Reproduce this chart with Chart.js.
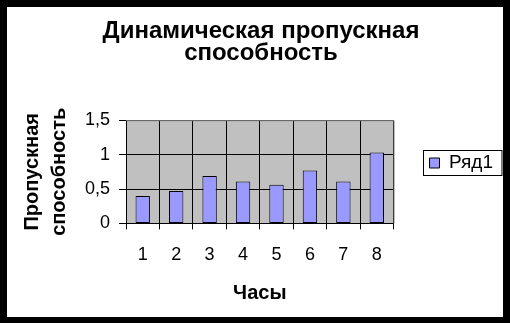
<!DOCTYPE html>
<html>
<head>
<meta charset="utf-8">
<script src="https://cdn.jsdelivr.net/npm/chart.js@4.4.1/dist/chart.umd.min.js"></script>
<style>
  html, body { margin: 0; padding: 0; background: #000; }
  #wrap { position: absolute; left: 7px; top: 7px; width: 496px; height: 310px; background: #fff; }
</style>
</head>
<body>
<div id="wrap"><canvas id="myChart" width="496" height="310"></canvas></div>
<script>
// данные с картинки
var chasy = ["1", "2", "3", "4", "5", "6", "7", "8"];
var ryad1 = [0.40, 0.47, 0.69, 0.61, 0.56, 0.77, 0.61, 1.03];
var yTicks = [0, 0.5, 1, 1.5];

var ctx = document.getElementById('myChart').getContext('2d');

// серый фон области построения + рамка
var fonPlagin = {
    id: 'fon',
    beforeDraw: function (chart) {
        var a = chart.chartArea;
        var c = chart.ctx;
        c.save();
        c.fillStyle = '#C0C0C0';
        c.fillRect(a.left, a.top, a.right - a.left, a.bottom - a.top);
        c.restore();
    },
    afterDraw: function (chart) {
        var a = chart.chartArea;
        var c = chart.ctx;
        c.save();
        c.strokeStyle = '#808080';
        c.lineWidth = 1;
        c.beginPath();
        c.moveTo(a.left, a.top + 0.5);
        c.lineTo(a.right + 0.5, a.top + 0.5);
        c.lineTo(a.right + 0.5, a.bottom);
        c.stroke();
        // рамка легенды
        var kutu = chart.legend.legendHitBoxes[0];
        if (kutu) {
            c.strokeStyle = '#000';
            c.strokeRect(Math.round(kutu.left) - 6.5, Math.round(kutu.top) - 3.5, kutu.width + 15, kutu.height + 6);
        }
        c.restore();
    }
};

var myChart = new Chart(ctx, {
    type: 'bar',
    data: {
        labels: chasy,
        datasets: [{
            label: 'Ряд1',
            data: ryad1,
            backgroundColor: '#9999FF',
            borderColor: '#000000',
            borderWidth: 1,
            borderSkipped: false,
            barPercentage: 0.43,
            categoryPercentage: 1
        }]
    },
    options: {
        responsive: false,
        animation: false,
        layout: { padding: { left: 12, right: 0, bottom: 12, top: 0 } },
        plugins: {
            title: {
                display: true,
                text: ['Динамическая пропускная', 'способность'],
                color: '#000',
                font: { family: 'Liberation Sans', size: 24, weight: 'bold', lineHeight: 0.9 },
                padding: { top: 14, bottom: 56 }
            },
            legend: {
                position: 'right',
                // пустой заголовок только чтобы сдвинуть легенду вниз
                title: { display: true, text: ' ', padding: 0, font: { size: 10, lineHeight: 1.4 } },
                labels: {
                    color: '#000',
                    font: { family: 'Liberation Sans', size: 19 },
                    boxWidth: 10,
                    boxHeight: 10,
                    padding: 36
                }
            },
            tooltip: { enabled: false }
        },
        scales: {
            x: {
                grid: { color: '#000', offset: true, tickLength: 6, drawOnChartArea: true },
                border: { color: '#000' },
                ticks: { color: '#000', font: { family: 'Liberation Sans', size: 18 }, padding: 15, maxRotation: 0 },
                title: {
                    display: true, text: 'Часы', color: '#000',
                    font: { family: 'Liberation Sans', size: 20, weight: 'bold' },
                    padding: { top: 0, bottom: 0 }
                }
            },
            y: {
                min: 0, max: 1.5,
                afterBuildTicks: function (axis) {
                    axis.ticks = yTicks.map(function (v) { return { value: v }; });
                },
                grid: { color: '#000', tickLength: 7 },
                border: { color: '#000' },
                ticks: {
                    color: '#000', font: { family: 'Liberation Sans', size: 18 }, padding: 9,
                    callback: function (v) { return String(v).replace('.', ','); }
                },
                title: {
                    display: true, text: ['Пропускная', 'способность'], color: '#000',
                    font: { family: 'Liberation Sans', size: 20, weight: 'bold', lineHeight: 1.35 },
                    padding: { top: 0, bottom: 3 }
                }
            }
        }
    },
    plugins: [fonPlagin]
});
</script>
</body>
</html>
